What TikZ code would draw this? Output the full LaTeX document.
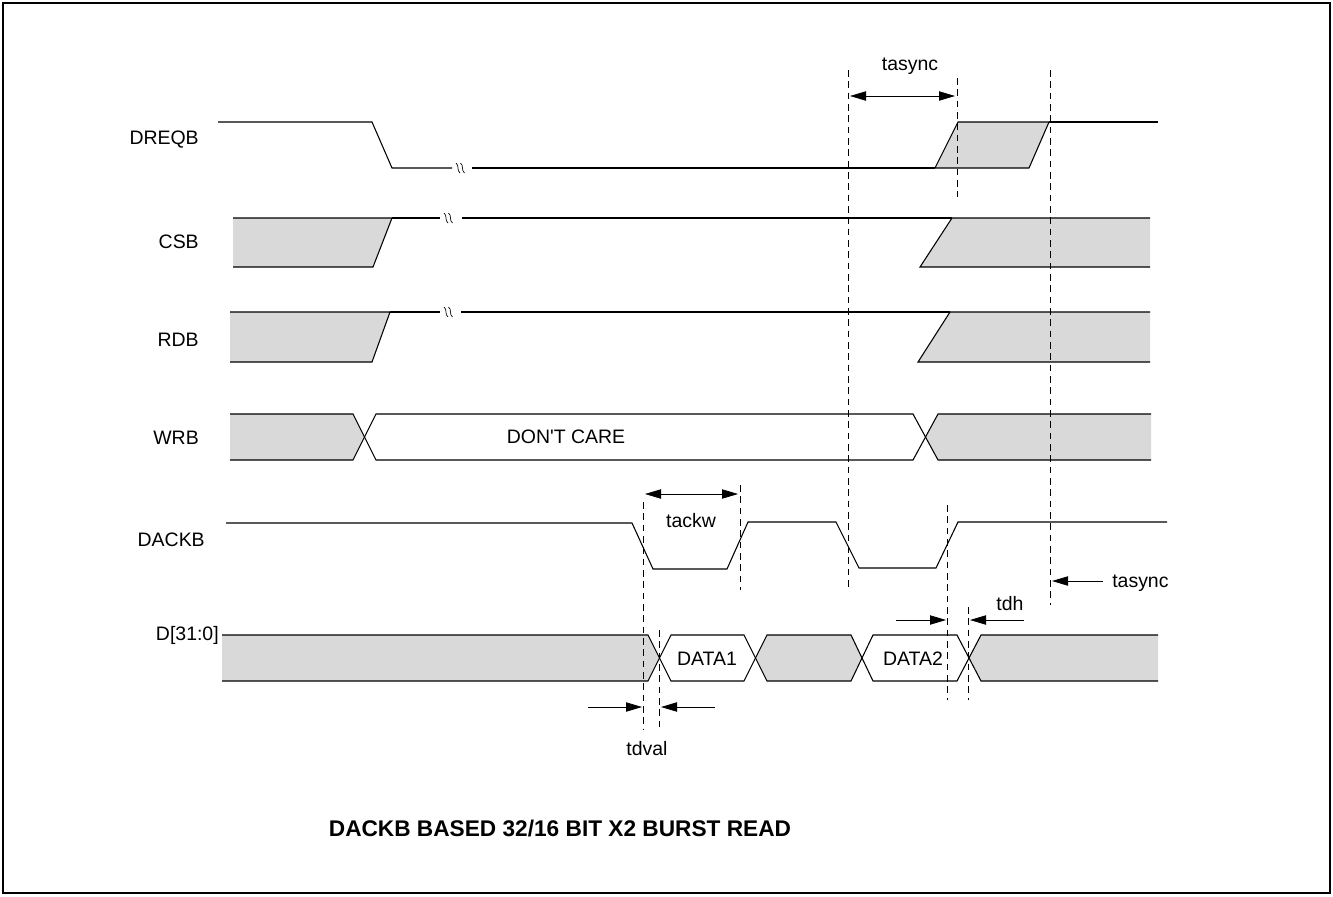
\documentclass[tikz,border=0pt]{standalone}
\usepackage{fontspec}
\setmainfont{Liberation Sans}[Ligatures=TeXOff]
\usetikzlibrary{arrows.meta}
\definecolor{busgray}{HTML}{D9D9D9}
\tikzset{
  sig/.style={line width=0.8pt, line join=miter},
  guide/.style={line width=0.6pt, dash pattern=on 5pt off 3.5pt},
  dim/.style={line width=0.6pt, {Triangle[length=12pt,width=7pt]}-{Triangle[length=12pt,width=7pt]}},
  dimr/.style={line width=0.6pt, -{Triangle[length=12pt,width=7pt]}},
  lbl/.style={font=\fontsize{14.6}{17}\selectfont, inner sep=0pt},
  brk/.pic={\draw[line width=0.5pt] (-2,-5) .. controls (1.5,-2.5) and (-1.5,2.5) .. (2,5);
            \draw[line width=0.5pt] (2.5,-5) .. controls (6,-2.5) and (3,2.5) .. (6.5,5);}
}
\begin{document}
\begin{tikzpicture}[x=0.75pt,y=-0.75pt]
\useasboundingbox (0,0) rectangle (1333,896);
\draw[line width=1.2pt] (3,3) rectangle (1330,893);

% signal names
\node[lbl, anchor=east] (nDREQB) at (199,140) {DREQB};
\node[lbl, anchor=east] (nCSB) at (199,242) {CSB};
\node[lbl, anchor=east] (nRDB) at (199,340) {RDB};
\node[lbl, anchor=east] (nWRB) at (199,438) {WRB};
\node[lbl, anchor=east] (nDACKB) at (205,540) {DACKB};
\node[lbl, anchor=east] (nD) at (219,635) {D[31:0]};

% DREQB
\draw[sig] (218,122) -- (372,122) -- (392,168) -- (452,168);
\pic at (458,168) {brk};
\draw[sig] (472,168) -- (935,168);
\fill[busgray] (935,168) -- (958,122) -- (1049,122) -- (1029,168) -- cycle;
\draw[sig] (935,168) -- (958,122) -- (1049,122) -- (1029,168) -- cycle;
\draw[sig] (1049,122) -- (1158,122);

% CSB
\fill[busgray] (233,218) -- (392,218) -- (373,267) -- (233,267) -- cycle;
\draw[sig] (233,218) -- (392,218) -- (373,267) -- (233,267);
\draw[sig] (392,218) -- (440,218);
\pic at (446,218) {brk};
\draw[sig] (462,218) -- (952,218);
\fill[busgray] (952,218) -- (1150,218) -- (1150,267) -- (920,267) -- cycle;
\draw[sig] (1150,218) -- (952,218) -- (920,267) -- (1150,267);

% RDB
\fill[busgray] (230,312) -- (390,312) -- (372,362) -- (230,362) -- cycle;
\draw[sig] (230,312) -- (390,312) -- (372,362) -- (230,362);
\draw[sig] (390,312) -- (440,312);
\pic at (446,312) {brk};
\draw[sig] (461,312) -- (950,312);
\fill[busgray] (950,312) -- (1150,312) -- (1150,362) -- (918,362) -- cycle;
\draw[sig] (1150,312) -- (950,312) -- (918,362) -- (1150,362);

% WRB
\fill[busgray] (230,414) -- (353,414) -- (364,437) -- (353,460) -- (230,460) -- cycle;
\fill[busgray] (1151,414) -- (938,414) -- (926,437) -- (938,460) -- (1151,460) -- cycle;
\draw[sig] (230,414) -- (353,414) -- (376,460) -- (913,460) -- (938,414) -- (1151,414);
\draw[sig] (230,460) -- (353,460) -- (376,414) -- (913,414) -- (938,460) -- (1151,460);
\node[lbl] (dc) at (566,437) {DON'T CARE};

% DACKB
\draw[sig] (226,523) -- (632,523) -- (653,569) -- (727,569) -- (748,522) -- (836,522)
  -- (859,568) -- (936,568) -- (958,522) -- (1167,522);

% D[31:0]
\fill[busgray] (222,635) -- (648,635) -- (659,658) -- (648,681) -- (222,681) -- cycle;
\fill[busgray] (767,635) -- (851,635) -- (862,658) -- (851,681) -- (767,681) -- (756,658) -- cycle;
\fill[busgray] (1158,635) -- (981,635) -- (969,658) -- (981,681) -- (1158,681) -- cycle;
\draw[sig] (222,635) -- (648,635) -- (671,681) -- (744,681) -- (767,635) -- (851,635)
  -- (873,681) -- (957,681) -- (981,635) -- (1158,635);
\draw[sig] (222,681) -- (648,681) -- (671,635) -- (744,635) -- (767,681) -- (851,681)
  -- (873,635) -- (957,635) -- (981,681) -- (1158,681);
\node[lbl] (d1) at (707,659) {DATA1};
\node[lbl] (d2) at (913,659) {DATA2};

% guide lines
\draw[guide] (643,502) -- (643,730);
\draw[guide] (659,630) -- (659,730);
\draw[guide] (740,485) -- (740,590);
\draw[guide] (848,70) -- (848,587);
\draw[guide] (957,78) -- (957,197);
\draw[guide] (947,505) -- (947,700);
\draw[guide] (968,607) -- (968,700);
\draw[guide] (1050,70) -- (1050,605);

% timing dimensions
\coordinate (ta1) at (850,96); \coordinate (ta2) at (955,96);
\draw[dim] (ta1) -- (ta2);
\node[lbl] (ltasync) at (910,66) {tasync};

\coordinate (tk1) at (645,494); \coordinate (tk2) at (738,494);
\draw[dim] (tk1) -- (tk2);
\node[lbl] (ltackw) at (691,521) {tackw};

\coordinate (tb1) at (1103,581); \coordinate (tb2) at (1052,581);
\draw[dimr] (tb1) -- (tb2);
\node[lbl, anchor=west] (ltasync2) at (1112,583) {tasync};

\coordinate (th1) at (896,620); \coordinate (th2) at (946,620);
\coordinate (th3) at (1024,620); \coordinate (th4) at (970,620);
\draw[dimr] (th1) -- (th2);
\draw[dimr] (th3) -- (th4);
\node[lbl] (ltdh) at (1010,604) {tdh};

\coordinate (tv1) at (588,707); \coordinate (tv2) at (642,707);
\coordinate (tv3) at (715,707); \coordinate (tv4) at (661,707);
\draw[dimr] (tv1) -- (tv2);
\draw[dimr] (tv3) -- (tv4);
\node[lbl] (ltdval) at (647,749) {tdval};

\node[lbl, font=\fontsize{17}{20}\selectfont\bfseries] (title) at (560,828) {DACKB BASED 32/16 BIT X2 BURST READ};
\end{tikzpicture}
\end{document}
